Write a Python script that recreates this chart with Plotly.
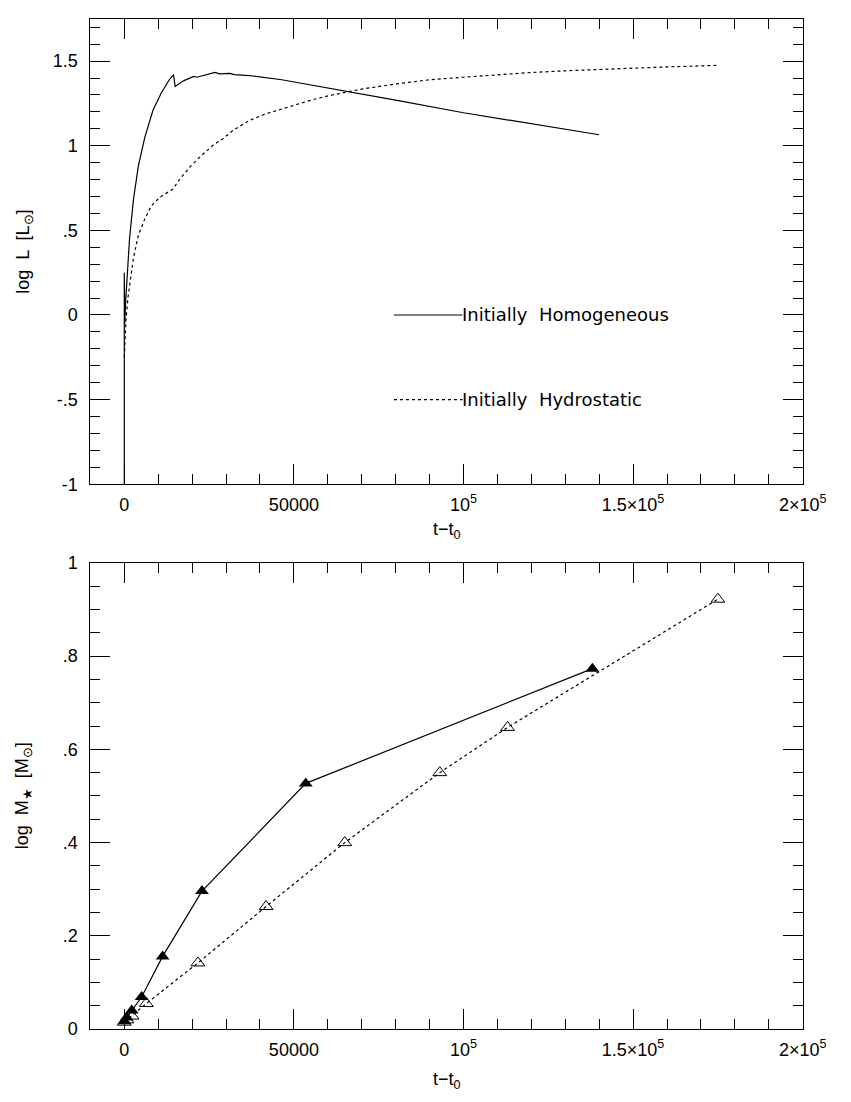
import plotly.graph_objects as go

# ---------------- data ----------------
# Top panel: log L vs t - t0
hom_L_t = [0, 0, 150, 400, 770, 1540, 2690, 4130, 6050, 8450, 10860, 13260, 14500, 14990,
           17580, 20460, 21420, 23830, 26710, 28150, 31030, 32470, 36800, 46400, 60800,
           80000, 100000, 120000, 140000]
hom_L = [-1.0, 0.25, -0.05, 0.08, 0.2, 0.45, 0.68, 0.88, 1.05, 1.21, 1.31, 1.39, 1.42, 1.35,
         1.385, 1.41, 1.405, 1.42, 1.434, 1.425, 1.428, 1.42, 1.415, 1.39, 1.34,
         1.27, 1.195, 1.13, 1.065]

hyd_L_t = [0, 200, 490, 1060, 1730, 2690, 4130, 6050, 7980, 10380, 11820, 14210, 16630,
           19510, 22390, 26230, 29110, 31990, 36800, 41590, 46400, 51210, 56000, 60800,
           70000, 80000, 90000, 100000, 110000, 120000, 130000, 140000, 150000, 160000, 175000]
hyd_L = [-0.25, -0.1, -0.03, 0.10, 0.2, 0.335, 0.47, 0.568, 0.645, 0.694, 0.713, 0.742, 0.81,
         0.878, 0.936, 1.004, 1.042, 1.09, 1.149, 1.188, 1.217, 1.246, 1.275, 1.298,
         1.335, 1.365, 1.39, 1.405, 1.42, 1.433, 1.443, 1.452, 1.46, 1.466, 1.475]

# Bottom panel: log M* vs t - t0
hom_M_t = [0, 700, 2200, 5100, 11300, 22900, 53500, 138000]
hom_M = [0.017, 0.025, 0.04, 0.069, 0.156, 0.296, 0.527, 0.773]
hyd_M_t = [0, 800, 2300, 6500, 21700, 41800, 65000, 93000, 113000, 175000]
hyd_M = [0.015, 0.02, 0.028, 0.055, 0.142, 0.263, 0.40, 0.55, 0.647, 0.922]

x_tickvals = [0, 50000, 100000, 150000, 200000]
x_ticktext = ["0", "50000", "10<sup>5</sup>", "1.5×10<sup>5</sup>", "2×10<sup>5</sup>"]
yL_tickvals = [-1, -0.5, 0, 0.5, 1, 1.5]
yL_ticktext = ["-1", "-.5", "0", ".5", "1", "1.5"]
yM_tickvals = [0, 0.2, 0.4, 0.6, 0.8, 1.0]
yM_ticktext = ["0", ".2", ".4", ".6", ".8", "1"]

legend_names = ["Initially  Homogeneous", "Initially  Hydrostatic"]
legend_y = [0, -0.5]
legend_x = [79500, 99700]

# ---------------- figure ----------------
W, H = 851, 1102
FONT = "Liberation Sans"

fig = go.Figure()
fig.add_trace(go.Scatter(x=hom_L_t, y=hom_L, mode="lines", line=dict(color="black", width=1.2),
                         xaxis="x", yaxis="y", showlegend=False))
fig.add_trace(go.Scatter(x=hyd_L_t, y=hyd_L, mode="lines", line=dict(color="black", width=1.2, dash="dot"),
                         xaxis="x", yaxis="y", showlegend=False))
fig.add_trace(go.Scatter(x=hom_M_t, y=hom_M, mode="lines+markers",
                         line=dict(color="black", width=1.2),
                         marker=dict(symbol="triangle-up", size=12, color="black"),
                         xaxis="x2", yaxis="y2", showlegend=False))
fig.add_trace(go.Scatter(x=hyd_M_t, y=hyd_M, mode="lines+markers",
                         line=dict(color="black", width=1.2, dash="dot"),
                         marker=dict(symbol="triangle-up-open", size=12, color="black",
                                     line=dict(width=1, color="black")),
                         xaxis="x2", yaxis="y2", showlegend=False))

xdom = [93 / W, 826 / W]
ytop = [1 - 483 / H, 1 - 9 / H]
ybot = [1 - 1038 / H, 1 - 563 / H]

common = dict(showline=True, linecolor="black", linewidth=1, mirror="ticks",
              ticks="inside", ticklen=20, tickwidth=1, tickcolor="black",
              showgrid=False, zeroline=False,
              tickfont=dict(family=FONT, size=18, color="black"))


def xaxis_cfg(anchor):
    return dict(domain=xdom, range=[-10000, 200000], anchor=anchor,
                tickmode="array", tickvals=x_tickvals, ticktext=x_ticktext,
                minor=dict(dtick=10000, tick0=0, ticks="inside", ticklen=10,
                           tickcolor="black", tickwidth=1, showgrid=False),
                ticklabelstandoff=4, **common)


fig.update_layout(
    width=W, height=H,
    margin=dict(l=0, r=0, t=0, b=0),
    paper_bgcolor="white", plot_bgcolor="white",
    font=dict(family=FONT, size=18, color="black"),
    xaxis=xaxis_cfg("y"),
    yaxis=dict(domain=ytop, range=[-1, 1.75], anchor="x",
               tickmode="array", tickvals=yL_tickvals, ticktext=yL_ticktext,
               minor=dict(dtick=0.1, tick0=0, ticks="inside", ticklen=10,
                          tickcolor="black", tickwidth=1, showgrid=False),
               ticklabelstandoff=8, **common),
    xaxis2=xaxis_cfg("y2"),
    yaxis2=dict(domain=ybot, range=[0, 1], anchor="x2",
                tickmode="array", tickvals=yM_tickvals, ticktext=yM_ticktext,
                minor=dict(dtick=0.05, tick0=0, ticks="inside", ticklen=10,
                           tickcolor="black", tickwidth=1, showgrid=False),
                ticklabelstandoff=8, **common),
)

# legend samples inside the top panel
for i, (name, yy) in enumerate(zip(legend_names, legend_y)):
    fig.add_shape(type="line", xref="x", yref="y", x0=legend_x[0], x1=legend_x[1], y0=yy, y1=yy,
                  line=dict(color="black", width=1.2, dash="solid" if i == 0 else "dot"))
    fig.add_annotation(x=legend_x[1], y=yy, xref="x", yref="y", text=name, showarrow=False,
                       xanchor="left", yanchor="middle", xshift=-2,
                       font=dict(family="DejaVu Sans", size=18, color="black"))

# axis titles
title_font = dict(family=FONT, size=18, color="black")
xc = (xdom[0] + xdom[1]) / 2
fig.add_annotation(x=xc, y=1 - 530 / H, xref="paper", yref="paper", text="t−t<sub>0</sub>",
                   showarrow=False, font=title_font, xanchor="center", yanchor="middle")
fig.add_annotation(x=xc, y=1 - 1090 / H, xref="paper", yref="paper", text="t−t<sub>0</sub>",
                   showarrow=False, font=title_font, xanchor="center", yanchor="middle")
fig.add_annotation(x=25 / W, y=(ytop[0] + ytop[1]) / 2, xref="paper", yref="paper",
                   text="log  L  [L<sub>⊙</sub>]", textangle=-90,
                   showarrow=False, font=title_font, xanchor="center", yanchor="middle")
fig.add_annotation(x=25 / W, y=(ybot[0] + ybot[1]) / 2, xref="paper", yref="paper",
                   text="log  M<sub>★</sub>  [M<sub>⊙</sub>]", textangle=-90,
                   showarrow=False, font=title_font, xanchor="center", yanchor="middle")

fig.write_html("out.html")
